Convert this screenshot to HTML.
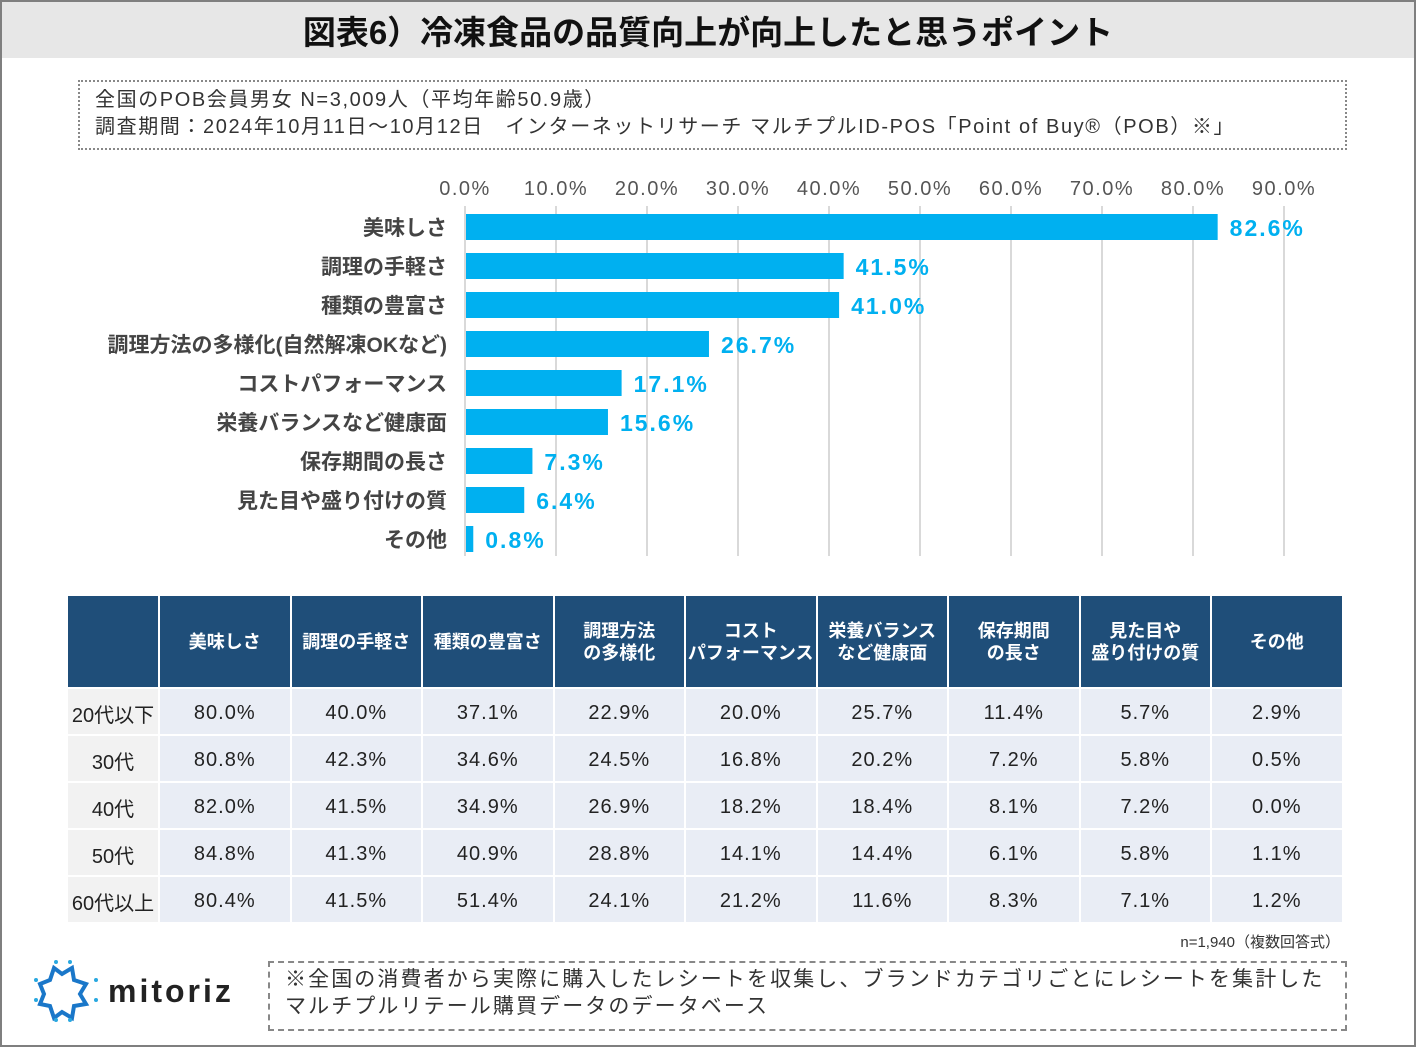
<!DOCTYPE html>
<html><head><meta charset="utf-8">
<style>
body{margin:0;width:1416px;height:1047px;overflow:hidden;background:#fff;font-family:"Liberation Sans","Noto Sans CJK JP",sans-serif;}
#frame{position:absolute;left:0;top:0;width:1412px;height:1043px;border:2px solid #7f7f7f;}
#title{position:absolute;left:2px;top:2px;width:1412px;height:56px;background:#e7e7e7;text-align:center;font-weight:bold;font-size:33px;line-height:62px;color:#111;letter-spacing:0px;}
#info{position:absolute;left:78px;top:80px;width:1269px;height:70px;border:2px dotted #888;font-size:20px;color:#333;line-height:27px;box-sizing:border-box;padding:5px 0 0 15px;letter-spacing:1.6px;white-space:nowrap;}
table{position:absolute;left:68px;top:596px;border-collapse:separate;border-spacing:2px 2px;margin:-2px;}
th{background:#1f4e79;color:#fff;font-size:18px;font-weight:bold;height:91px;padding:0;line-height:22px;}
td{background:#e9edf5;text-align:center;font-size:20px;color:#222;height:45px;padding:3px 0 0 0;letter-spacing:1px;box-sizing:border-box;}
td.rh{background:#f2f2f2;width:90px;letter-spacing:0;}
th.c,td.c{width:129.5px;}
#nnote{position:absolute;right:76px;top:931px;font-size:15px;color:#333;}
#foot{position:absolute;left:268px;top:961px;width:1079px;height:70px;border:2px dashed #888;box-sizing:border-box;font-size:21px;color:#333;line-height:27px;padding:3px 0 0 15px;letter-spacing:2.1px;white-space:nowrap;}
#logo{position:absolute;left:34px;top:960px;}
</style></head><body>
<div id="frame"></div>
<div id="title">図表6）冷凍食品の品質向上が向上したと思うポイント</div>
<div id="info">全国のPOB会員男女 N=3,009人（平均年齢50.9歳）<br>調査期間：2024年10月11日～10月12日　インターネットリサーチ マルチプルID-POS「Point of Buy®（POB）※」</div>
<svg id="chart" width="1416" height="570" style="position:absolute;left:0;top:0"></svg>
<table>
<tr><th class="rh" style="width:90px"></th><th class="c">美味しさ</th><th class="c">調理の手軽さ</th><th class="c">種類の豊富さ</th><th class="c">調理方法<br>の多様化</th><th class="c">コスト<br>パフォーマンス</th><th class="c">栄養バランス<br>など健康面</th><th class="c">保存期間<br>の長さ</th><th class="c">見た目や<br>盛り付けの質</th><th class="c">その他</th></tr>
<tr><td class="rh">20代以下</td><td>80.0%</td><td>40.0%</td><td>37.1%</td><td>22.9%</td><td>20.0%</td><td>25.7%</td><td>11.4%</td><td>5.7%</td><td>2.9%</td></tr>
<tr><td class="rh">30代</td><td>80.8%</td><td>42.3%</td><td>34.6%</td><td>24.5%</td><td>16.8%</td><td>20.2%</td><td>7.2%</td><td>5.8%</td><td>0.5%</td></tr>
<tr><td class="rh">40代</td><td>82.0%</td><td>41.5%</td><td>34.9%</td><td>26.9%</td><td>18.2%</td><td>18.4%</td><td>8.1%</td><td>7.2%</td><td>0.0%</td></tr>
<tr><td class="rh">50代</td><td>84.8%</td><td>41.3%</td><td>40.9%</td><td>28.8%</td><td>14.1%</td><td>14.4%</td><td>6.1%</td><td>5.8%</td><td>1.1%</td></tr>
<tr><td class="rh">60代以上</td><td>80.4%</td><td>41.5%</td><td>51.4%</td><td>24.1%</td><td>21.2%</td><td>11.6%</td><td>8.3%</td><td>7.1%</td><td>1.2%</td></tr>
</table>
<div id="nnote">n=1,940（複数回答式）</div>
<svg id="logo" width="220" height="66" viewBox="0 0 220 66">
<path d="M20 12 L28 18 L38 12 L40 24 L52 28 L46 38 L52 48 L40 50 L38 62 L28 56 L20 62 L16 50 L6 48 L10 38 L6 28 L16 24 Z" fill="none" stroke="#1a77c9" stroke-width="4" transform="translate(0,-4)"/>
<g fill="#29a8e0"><circle cx="22" cy="2" r="2"/><circle cx="36" cy="2" r="2"/><circle cx="62" cy="20" r="2"/><circle cx="62" cy="40" r="2"/><circle cx="22" cy="60" r="2"/><circle cx="36" cy="60" r="2"/><circle cx="2" cy="20" r="2"/><circle cx="2" cy="40" r="2"/></g>
<text x="74" y="42" font-size="32" font-weight="bold" fill="#222" letter-spacing="3" font-family="Liberation Sans, sans-serif">mitoriz</text>
</svg>
<div id="foot">※全国の消費者から実際に購入したレシートを収集し、ブランドカテゴリごとにレシートを集計した<br>マルチプルリテール購買データのデータベース</div>
<script>
const categories=["美味しさ","調理の手軽さ","種類の豊富さ","調理方法の多様化(自然解凍OKなど)","コストパフォーマンス","栄養バランスなど健康面","保存期間の長さ","見た目や盛り付けの質","その他"];
const values=[82.6,41.5,41.0,26.7,17.1,15.6,7.3,6.4,0.8];
const ticks=[0,10,20,30,40,50,60,70,80,90];
const svg=document.getElementById('chart');
const NS='http://www.w3.org/2000/svg';
const x=v=>465+v*9.1;
const y=i=>214+i*39;
function mk(t,a){const e=document.createElementNS(NS,t);for(const k in a)e.setAttribute(k,a[k]);svg.appendChild(e);return e;}
ticks.forEach(t=>{
 const l=mk('line',{x1:x(t),x2:x(t),y1:206,y2:556,stroke:'#d9d9d9','stroke-width':2});
 
 
 const tx=mk('text',{x:x(t),y:195,'text-anchor':'middle','font-size':20,fill:'#555','letter-spacing':1.5});
 tx.textContent=t.toFixed(1)+'%';
 
 
});
categories.forEach((c,i)=>{
 const r=mk('rect',{x:x(0)+1,y:y(i),width:x(values[i])-x(0),height:26,fill:'#00b0f0'});
 
 
 const lb=mk('text',{x:447,y:y(i)+21,'text-anchor':'end','font-size':21,'font-weight':'bold',fill:'#444'});
 lb.textContent=c;
 
 
 const vl=mk('text',{x:x(values[i])+13,y:y(i)+22,'font-size':23,'font-weight':'bold',fill:'#00b0f0','letter-spacing':2});
 vl.textContent=values[i].toFixed(1)+'%';
 
 
});
</script>
</body></html>
